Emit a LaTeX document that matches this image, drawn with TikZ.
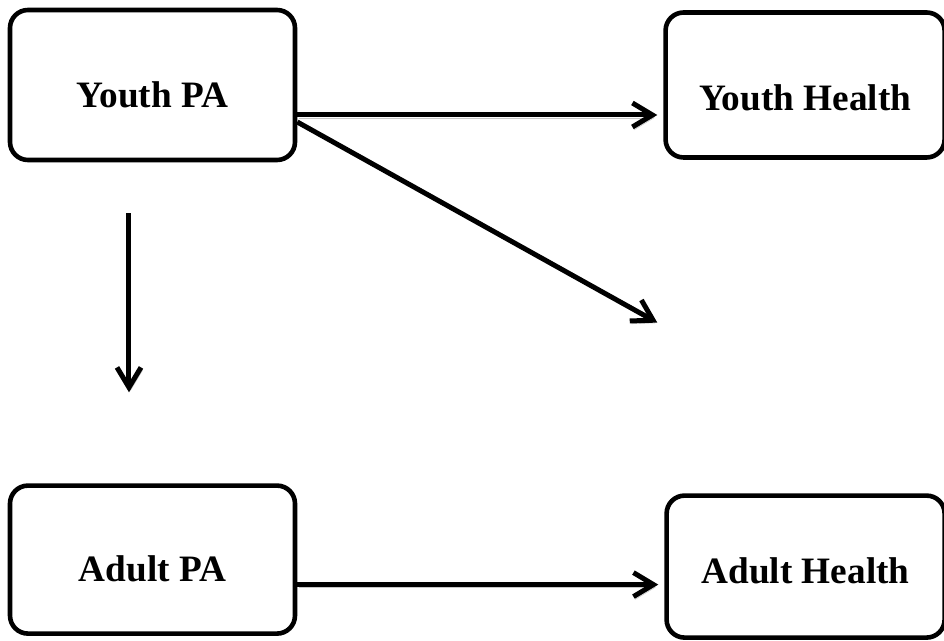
\documentclass[tikz,border=0pt]{standalone}
\usepackage{fontspec}
\setmainfont{Liberation Serif}
\usetikzlibrary{arrows.meta}
\usetikzlibrary{positioning}

\begin{document}
\begin{tikzpicture}
\tikzset{varbox/.style={rectangle,rounded corners=0.45cm,draw,line width=0.115cm,minimum width=7.125cm,minimum height=3.75cm,text depth=0cm,font=\fontsize{26.5}{31}\selectfont\bfseries},
pathline/.style={line width=0.125cm,-{Straight Barb[length=0.5cm,width=0.6cm]},
  preaction={draw=black!22,transform canvas={shift={(0.04cm,-0.07cm)}}}}}
\useasboundingbox (-3.8125,2.125) rectangle (19.7875,-13.9);
\node[varbox,text height=1.14cm](yp){Youth PA};
\node[varbox,text height=1.3cm,minimum width=6.975cm,minimum height=3.625cm](yh)[right=9.15cm of yp]{Youth Health};
\node[varbox,text height=1.07cm,minimum height=3.7cm](ap)[below=8.025cm of yp]{Adult PA};
\node[varbox,text height=0.82cm,minimum width=6.95cm,minimum height=3.55cm,yshift=-0.175cm](ah)[right=9.175cm of ap]{Adult Health};
\coordinate (ya) at ([yshift=-0.75cm]yp.east);
\coordinate (yd) at ([yshift=-0.925cm]yp.east);
\coordinate (dtip) at ([xshift=-0.15cm,yshift=-5.94cm]yh.west);
\coordinate (aa) at ([yshift=-0.625cm]ap.east);
\draw[pathline,shorten >=0.15cm](ya) -- (ya -| yh.west);
\draw[pathline](yd) -- (dtip);
\draw[pathline,shorten <=1.275cm,shorten >=2.275cm]([xshift=-0.5875cm]yp.south) -- ([xshift=-0.5875cm]ap.north);
\draw[pathline,shorten >=0.15cm](aa) -- (aa -| ah.west);
\end{tikzpicture}
\end{document}
